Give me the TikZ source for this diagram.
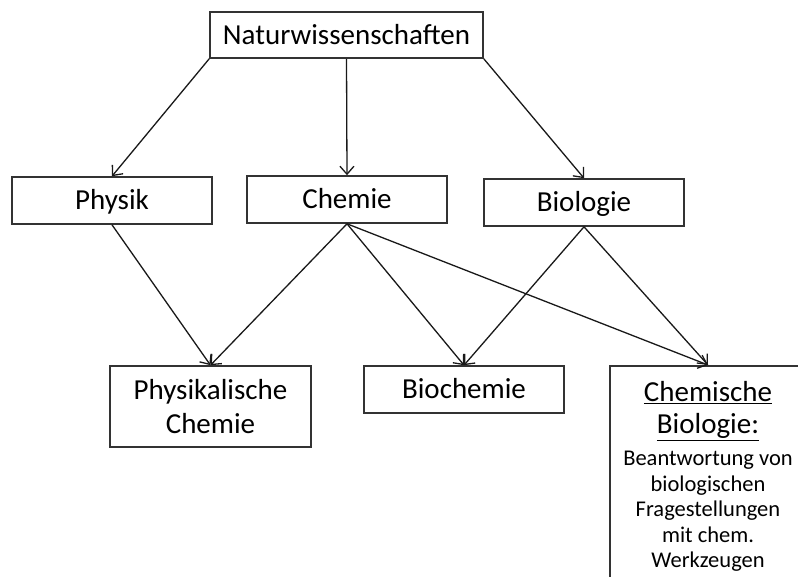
\documentclass[tikz,border=0pt]{standalone}
\usepackage{fontspec}
\setmainfont{Carlito}
\usetikzlibrary{arrows.meta}
\begin{document}
\begin{tikzpicture}[x=1pt,y=-1pt,
  box/.style={draw=black!80, line width=1.6pt, fill=white, minimum height=47pt, minimum width=200pt, inner sep=0pt, align=center, font=\fontsize{29}{34}\selectfont},
  onebox/.style={box, text height=22pt, text depth=4pt},
  arr/.style={line width=1.3pt, draw=black!90, -{Straight Barb[length=8pt,width=14pt,line width=1.3pt]}}]
\path[use as bounding box, clip] (0,0) rectangle (798,576);
\fill[white] (0,0) rectangle (798,576);

\node[onebox, minimum width=273pt, minimum height=46pt] (natur) at (346.5,35) {Naturwissenschaften};
\node[onebox] (physik) at (112,200.5) {Physik};
\node[onebox] (chemie) at (347,199.5) {Chemie};
\node[onebox] (biologie) at (584,202.5) {Biologie};
\node[box, minimum width=201pt, minimum height=81pt] (physchem) at (210.5,406.5) {Physikalische\\Chemie};
\node[onebox] (biochemie) at (464,389.5) {Biochemie};
\node[box, anchor=north, minimum width=196pt, inner ysep=16pt, font=\fontsize{22.5}{25.5}\selectfont] (chembio) at (708,365)
  {{\fontsize{29}{31}\selectfont\underline{Chemische}}\\[6pt]
   {\fontsize{29}{31}\selectfont\underline{Biologie:}}\\[7pt]
   Beantwortung von\\biologischen\\Fragestellungen\\mit chem.\\Werkzeugen\\[10pt]\mbox{}};

\draw[arr] (natur.south west) -- (physik.north);
\draw[arr] (natur.south) -- (chemie.north);
\draw[arr] (natur.south east) -- (biologie.north);
\draw[arr] (physik.south) -- (physchem.north);
\draw[arr] (chemie.south) -- (physchem.north);
\draw[arr] (chemie.south) -- (biochemie.north);
\draw[arr] (chemie.south) -- (chembio.north);
\draw[arr] (biologie.south) -- (biochemie.north);
\draw[arr] (biologie.south) -- (chembio.north);
\end{tikzpicture}
\end{document}
